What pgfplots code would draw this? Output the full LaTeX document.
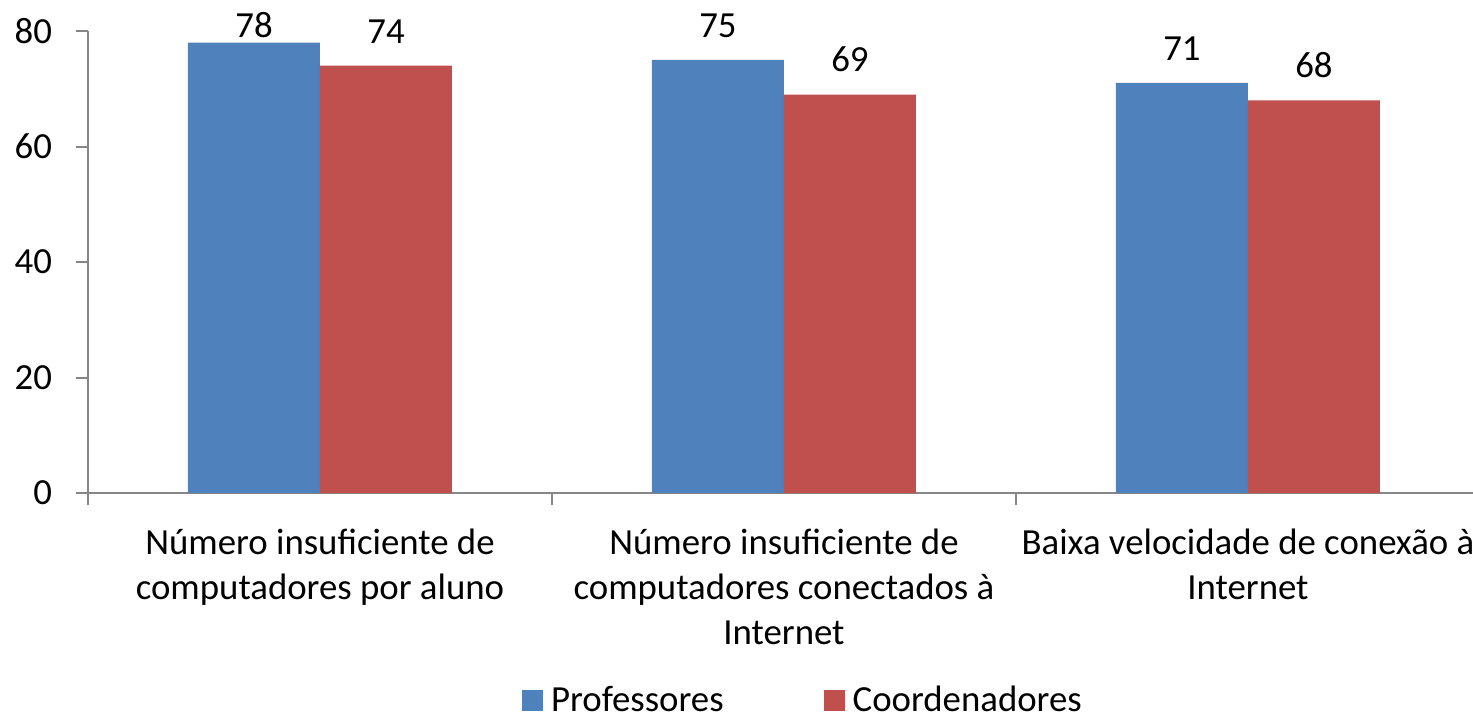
\documentclass[border=0pt]{standalone}
\usepackage{pgfplots}
\pgfplotsset{compat=1.18}
\usepackage{fontspec}
\setmainfont{Carlito}
\definecolor{cblue}{HTML}{4F81BD}
\definecolor{cred}{HTML}{C0504D}
\definecolor{axgray}{HTML}{868686}
\begin{document}
\begin{tikzpicture}
\useasboundingbox (0pt,0pt) rectangle (736.5pt,359.5pt);
\begin{axis}[
  at={(44pt,113pt)}, anchor=south west,
  scale only axis,
  width=692.5pt, height=231pt,
  xmin=-0.5, xmax=2.485, ymin=0, ymax=80,
  ybar=0pt, bar width=66pt,
  axis x line*=bottom, axis y line*=left,
  axis line style={axgray, line width=1pt},
  tick align=outside,
  major tick length=6pt, minor tick length=6pt,
  ytick={0,20,40,60,80},
  ytick style={axgray, line width=1pt},
  xtick={0,1,2},
  xticklabels={{Número insuficiente de\\computadores por aluno},{Número insuficiente de\\computadores conectados à\\Internet},{Baixa velocidade de conexão à\\Internet}},
  major x tick style={draw=none},
  minor xtick={-0.5,0.5,1.5},
  minor x tick style={axgray, line width=1pt},
  /pgf/number format/assume math mode=true,
  tick label style={font=\fontsize{18.4}{22.5}\selectfont, text=black},
  yticklabel style={xshift=-8.5pt},
  xticklabel style={align=center, anchor=north, inner sep=0pt, yshift=-12pt},
  nodes near coords,
  visualization depends on={\thisrow{s} \as \lblshift},
  every node near coord/.append style={font=\fontsize{18.4}{22}\selectfont, text=black, anchor=south, inner sep=0pt, yshift=\lblshift},
  legend style={draw=none, legend columns=2, inner sep=0pt, outer sep=0pt,
    at={(axis description cs:0.5155,-0.449)}, anchor=center,
    nodes={inner sep=0pt},
    font=\fontsize{18.4}{22}\selectfont,
    /tikz/every odd column/.append style={column sep=4pt},
    /tikz/every even column/.append style={column sep=50pt}},
  legend image code/.code={\fill[#1] (0pt,-5.25pt) rectangle (10.5pt,5.25pt);},
  clip=false,
]
\addplot[fill=cblue, draw=none] table {
x y s
0 78 2pt
1 75 11pt
2 71 11pt
};
\addlegendentry{Professores}
\addplot[fill=cred, draw=none] table {
x y s
0 74 11pt
1 69 11pt
2 68 11pt
};
\addlegendentry{Coordenadores}
\end{axis}
\end{tikzpicture}
\end{document}
